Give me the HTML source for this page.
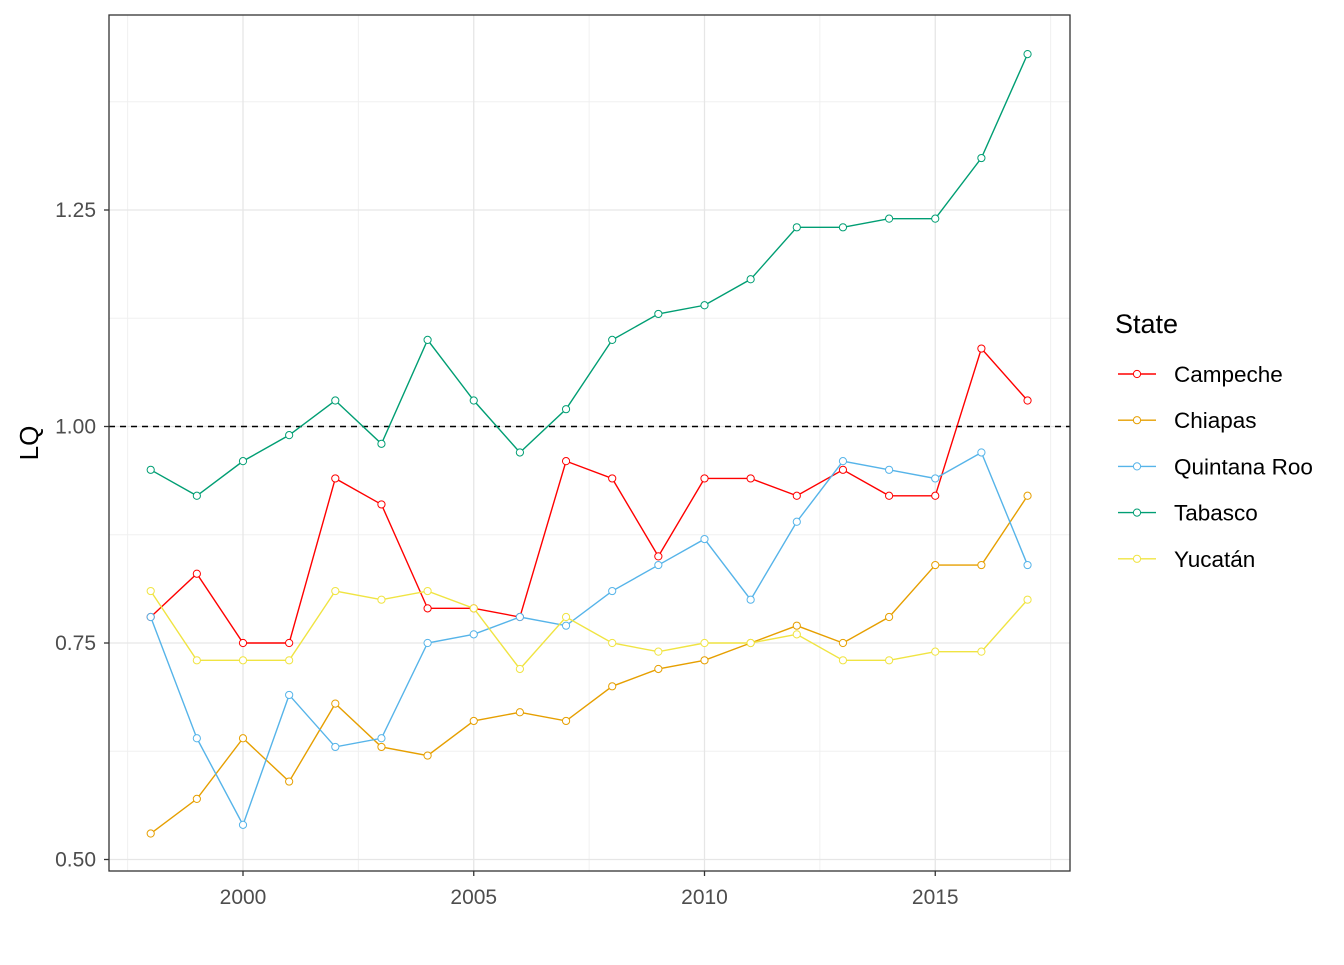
<!DOCTYPE html>
<html><head><meta charset="utf-8"><style>body{margin:0;background:#fff}svg{font-family:"Liberation Sans",Arial,sans-serif}</style></head>
<body>
<svg id="chart" width="1344" height="960" viewBox="0 0 1344 960"></svg>
<script>
const years=[1998,1999,2000,2001,2002,2003,2004,2005,2006,2007,2008,2009,2010,2011,2012,2013,2014,2015,2016,2017];
const campeche=[0.78,0.83,0.75,0.75,0.94,0.91,0.79,0.79,0.78,0.96,0.94,0.85,0.94,0.94,0.92,0.95,0.92,0.92,1.09,1.03];
const chiapas=[0.53,0.57,0.64,0.59,0.68,0.63,0.62,0.66,0.67,0.66,0.70,0.72,0.73,0.75,0.77,0.75,0.78,0.84,0.84,0.92];
const quintanaRoo=[0.78,0.64,0.54,0.69,0.63,0.64,0.75,0.76,0.78,0.77,0.81,0.84,0.87,0.80,0.89,0.96,0.95,0.94,0.97,0.84];
const tabasco=[0.95,0.92,0.96,0.99,1.03,0.98,1.10,1.03,0.97,1.02,1.10,1.13,1.14,1.17,1.23,1.23,1.24,1.24,1.31,1.43];
const yucatan=[0.81,0.73,0.73,0.73,0.81,0.80,0.81,0.79,0.72,0.78,0.75,0.74,0.75,0.75,0.76,0.73,0.73,0.74,0.74,0.80];
const seriesNames=["Campeche","Chiapas","Quintana Roo","Tabasco","Yucatán"];
const xTicks=[2000,2005,2010,2015];
const yTicks=[0.50,0.75,1.00,1.25];
const yTickLabels=["0.50","0.75","1.00","1.25"];
const refLine=1.0;

const svg=document.getElementById('chart');
const NS='http://www.w3.org/2000/svg';
const L=109,R=1070,T=15,B=871;
const x=v=>243+(v-2000)*46.15;
const y=v=>426.5-(v-1)*866;
function mk(tag,attrs,parent){const e=document.createElementNS(NS,tag);for(const k in attrs)e.setAttribute(k,attrs[k]);(parent||svg).appendChild(e);return e;}

const grid=mk('g',{});


[0.625,0.875,1.125,1.375].forEach(v=>mk('line',{x1:L,x2:R,y1:y(v),y2:y(v),stroke:'#f0f0f0','stroke-width':1},grid));
[1997.5,2002.5,2007.5,2012.5,2017.5].forEach(v=>mk('line',{x1:x(v),x2:x(v),y1:T,y2:B,stroke:'#f0f0f0','stroke-width':1},grid));
yTicks.forEach(v=>mk('line',{x1:L,x2:R,y1:y(v),y2:y(v),stroke:'#e6e6e6','stroke-width':1.3},grid));
xTicks.forEach(v=>mk('line',{x1:x(v),x2:x(v),y1:T,y2:B,stroke:'#e6e6e6','stroke-width':1.3},grid));

const ref=mk('line',{x1:L,x2:R,y1:y(refLine),y2:y(refLine),stroke:'#000','stroke-width':1.6,'stroke-dasharray':'6,5'});



const colors=["#FF0000","#E69F00","#56B4E9","#009E73","#F0E442"];
const data=[campeche,chiapas,quintanaRoo,tabasco,yucatan];
data.forEach((vals,i)=>{
  const g=mk('g',{});
  
  
  mk('polyline',{points:vals.map((v,j)=>x(years[j])+','+y(v)).join(' '),fill:'none',stroke:colors[i],'stroke-width':1.4},g);
  vals.forEach((v,j)=>{const c=mk('circle',{cx:x(years[j]),cy:y(v),r:3.6,fill:'#fff',stroke:colors[i],'stroke-width':1},g);
    
    });
});

const frame=mk('rect',{x:L,y:T,width:R-L,height:B-T,fill:'none',stroke:'#333','stroke-width':1.3});



yTicks.forEach((v,i)=>{mk('line',{x1:L-5,x2:L,y1:y(v),y2:y(v),stroke:'#333','stroke-width':1.3});
  const t=mk('text',{x:L-13,y:y(v)+7,'text-anchor':'end','font-size':21,fill:'#4d4d4d'});t.textContent=yTickLabels[i];
  
  });
xTicks.forEach(v=>{mk('line',{x1:x(v),x2:x(v),y1:B,y2:B+5,stroke:'#333','stroke-width':1.3});
  const t=mk('text',{x:x(v),y:B+33,'text-anchor':'middle','font-size':21,fill:'#4d4d4d'});t.textContent=v;
  
  });

const yl=mk('text',{x:0,y:0,transform:'translate(38,443) rotate(-90)','text-anchor':'middle','font-size':26,fill:'#000'});
yl.textContent='LQ';



const lg=mk('g',{});


const lt=mk('text',{x:1115,y:333,'font-size':27,fill:'#000'},lg);lt.textContent='State';
seriesNames.forEach((n,i)=>{const yy=374+i*46.2;
  const e=mk('g',{},lg);
  
  
  mk('line',{x1:1118,x2:1156,y1:yy,y2:yy,stroke:colors[i],'stroke-width':1.4},e);
  mk('circle',{cx:1137,cy:yy,r:3.6,fill:'#fff',stroke:colors[i]},e);
  const t=mk('text',{x:1174,y:yy+8,'font-size':22.5,fill:'#000'},e);t.textContent=n;});
</script>
</body></html>
